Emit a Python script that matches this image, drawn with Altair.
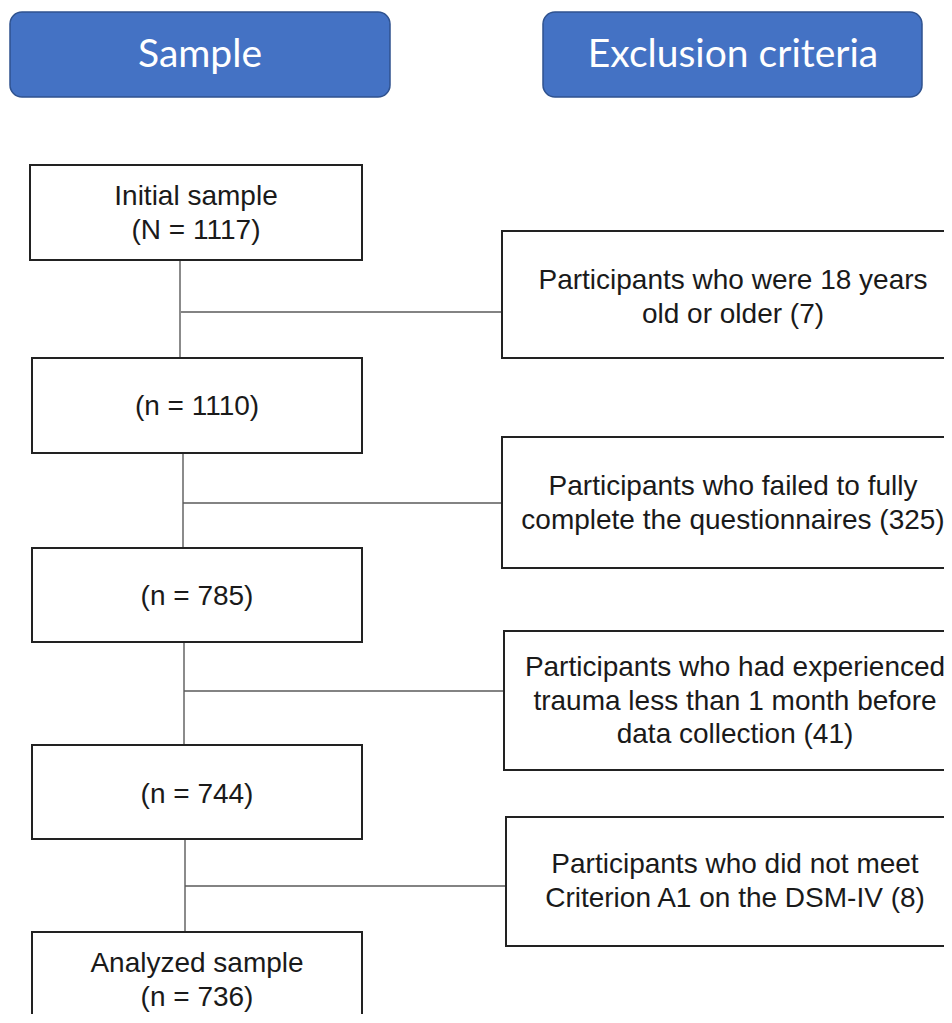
import altair as alt
import pandas as pd

# ---- content ----
header_labels = ["Sample", "Exclusion criteria"]
sample_labels = [
    "Initial sample\n(N = 1117)",
    "(n = 1110)",
    "(n = 785)",
    "(n = 744)",
    "Analyzed sample\n(n = 736)",
]
exclusion_labels = [
    "Participants who were 18 years\nold or older (7)",
    "Participants who failed to fully\ncomplete the questionnaires (325)",
    "Participants who had experienced\ntrauma less than 1 month before\ndata collection (41)",
    "Participants who did not meet\nCriterion A1 on the DSM-IV (8)",
]

# ---- layout (pixel space of the figure; text y = first line) ----
header_box = [(10, 390, 12, 97), (543, 922, 12, 97)]
header_text = [(200, 55), (733, 55)]
sample_box = [(30, 362, 165, 260), (32, 362, 358, 453), (32, 362, 548, 642),
              (32, 362, 745, 839), (32, 362, 932, 1040)]
sample_text = [(196, 197), (197, 407), (197, 597), (197, 795), (197, 964)]
excl_box = [(502, 970, 231, 358), (502, 970, 437, 568), (504, 970, 631, 770),
            (506, 970, 817, 946)]
excl_text = [(733, 281), (733, 487), (735, 668), (735, 865)]
vlines = [(180, 260, 358), (183, 453, 548), (184, 642, 745), (185, 839, 932)]
hlines = [(181, 502, 312), (183, 502, 503), (184, 504, 691), (185, 506, 886)]

W, H = 936, 1006
xs = alt.Scale(domain=[8, 8 + W], nice=False, zero=False)
ys = alt.Scale(domain=[8, 8 + H], nice=False, zero=False, reverse=True)


def X(f):
    return alt.X(f, type="quantitative", scale=xs, axis=None)


def Y(f):
    return alt.Y(f, type="quantitative", scale=ys, axis=None)


hdr_df = pd.DataFrame({
    "label": header_labels,
    "x0": [b[0] for b in header_box], "x1": [b[1] for b in header_box],
    "y0": [b[2] for b in header_box], "y1": [b[3] for b in header_box],
    "tx": [t[0] for t in header_text], "ty": [t[1] for t in header_text],
})
box_df = pd.DataFrame({
    "label": sample_labels + exclusion_labels,
    "x0": [b[0] for b in sample_box + excl_box],
    "x1": [b[1] for b in sample_box + excl_box],
    "y0": [b[2] for b in sample_box + excl_box],
    "y1": [b[3] for b in sample_box + excl_box],
    "tx": [t[0] for t in sample_text + excl_text],
    "ty": [t[1] for t in sample_text + excl_text],
})
line_df = pd.DataFrame({
    "x0": [v[0] for v in vlines] + [h[0] for h in hlines],
    "x1": [v[0] for v in vlines] + [h[1] for h in hlines],
    "y0": [v[1] for v in vlines] + [h[2] for h in hlines],
    "y1": [v[2] for v in vlines] + [h[2] for h in hlines],
})

hdr_rect = alt.Chart(hdr_df).mark_rect(
    fill="#4472C4", stroke="#2F528F", strokeWidth=1.5, cornerRadius=12
).encode(x=X("x0"), x2="x1", y=Y("y0"), y2="y1")

hdr_txt = alt.Chart(hdr_df).mark_text(
    color="white", font="Lato", fontSize=39, align="center", baseline="middle"
).encode(x=X("tx"), y=Y("ty"), text="label:N")

lines = alt.Chart(line_df).mark_rule(color="#5a5a5a", strokeWidth=1.4).encode(
    x=X("x0"), x2="x1", y=Y("y0"), y2="y1"
)

boxes = alt.Chart(box_df).mark_rect(
    fill="white", stroke="#222222", strokeWidth=2, clip=True
).encode(x=X("x0"), x2="x1", y=Y("y0"), y2="y1")

box_txt = alt.Chart(box_df).mark_text(
    color="#1a1a1a", font="Liberation Sans", fontSize=28, align="center",
    baseline="middle", lineBreak="\n", lineHeight=33.5
).encode(x=X("tx"), y=Y("ty"), text="label:N")

chart = alt.layer(hdr_rect, hdr_txt, lines, boxes, box_txt).properties(
    width=W, height=H,
    autosize=alt.AutoSizeParams(type="none"),
    padding=0,
).configure_view(stroke=None)

chart.save("out.html", embed_options={"renderer": "svg", "actions": False})
